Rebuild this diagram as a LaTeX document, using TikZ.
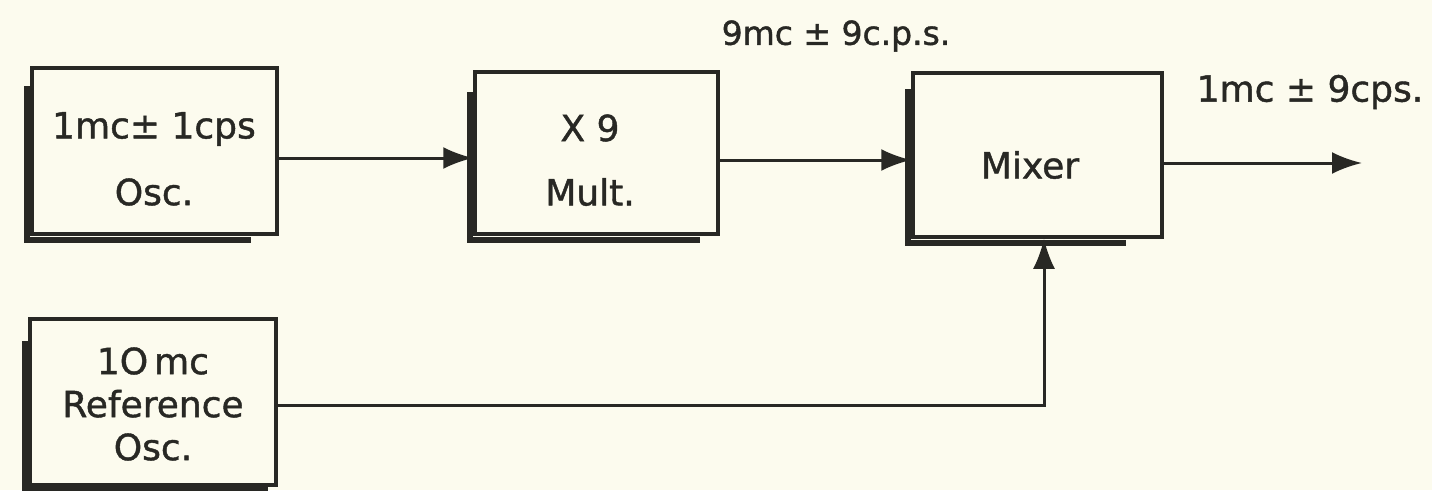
\documentclass[tikz,border=0pt]{standalone}
\usepackage{fontspec}
\setmainfont{DejaVu Sans}[UprightFeatures={FakeBold=1.2}]
\usetikzlibrary{arrows.meta,calc}
\definecolor{bgc}{RGB}{252,251,238}
\definecolor{ink}{RGB}{40,40,36}
\begin{document}
\begin{tikzpicture}[x=1pt,y=-1pt,
  box/.style={draw=ink,line width=3.5pt,fill=bgc,inner sep=0pt,minimum width=#1},
  lbl/.style={text=ink,inner sep=0pt,font=\fontsize{36}{43}\selectfont,align=center},
  conn/.style={draw=ink,line width=3pt,-{Latex[length=30pt,width=22pt]}},
  shad/.style={draw=ink,line width=6pt}]
\fill[bgc] (0,0) rectangle (1432,490);
\useasboundingbox (0,0) rectangle (1432,490);
% boxes
\node[box=245pt,minimum height=166pt] (osc) at (154.5,151) {};
\node[box=243pt,minimum height=162pt] (mult) at (596.5,153) {};
\node[box=249pt,minimum height=164pt] (mix) at (1037.5,155) {};
\node[box=246pt,minimum height=166pt] (ref) at (153,402) {};
% shadows
\draw[shad] ($(osc.north west)+(-3,20)$) -- ($(osc.south west)+(-3,4)$) -- ($(osc.south east)+(-28,4)$);
\draw[shad] ($(mult.north west)+(-3,22)$) -- ($(mult.south west)+(-3,4)$) -- ($(mult.south east)+(-20,4)$);
\draw[shad] ($(mix.north west)+(-3,18)$) -- ($(mix.south west)+(-3,4)$) -- ($(mix.south east)+(-38,4)$);
\draw[shad] ($(ref.north west)+(-3,24)$) -- ($(ref.south west)+(-3,2)$) -- ($(ref.south east)+(-10,2)$);
% texts
\node[lbl] (osct1) at (154,129) {1mc± 1cps};
\node[lbl] (osct2) at (154,192) {Osc.};
\node[lbl] (multt1) at (590,128) {X 9};
\node[lbl] (multt2) at (590,192) {Mult.};
\node[lbl] (mixt) at (1030,165) {Mixer};
\node[lbl] (reft) at (153,404) {1O\,mc\\Reference\\Osc.};
\node[lbl,font=\fontsize{33}{40}\selectfont] (l9) at (836,36) {9mc ± 9c.p.s.};
\node[lbl] (l1) at (1310,92) {1mc ± 9cps.};
% connectors
\coordinate (out) at (1362,163);
\draw[conn] (osc.east |- 0,158) -- (mult.west |- 0,158);
\draw[conn] (mult.east |- 0,160) -- (mix.west |- 0,160);
\draw[conn] (mix.east |- out) -- (out);
\draw[conn] (ref.east |- 0,405) -- (1044,405) -- (mix.south -| 1044,0);
\end{tikzpicture}
\end{document}
